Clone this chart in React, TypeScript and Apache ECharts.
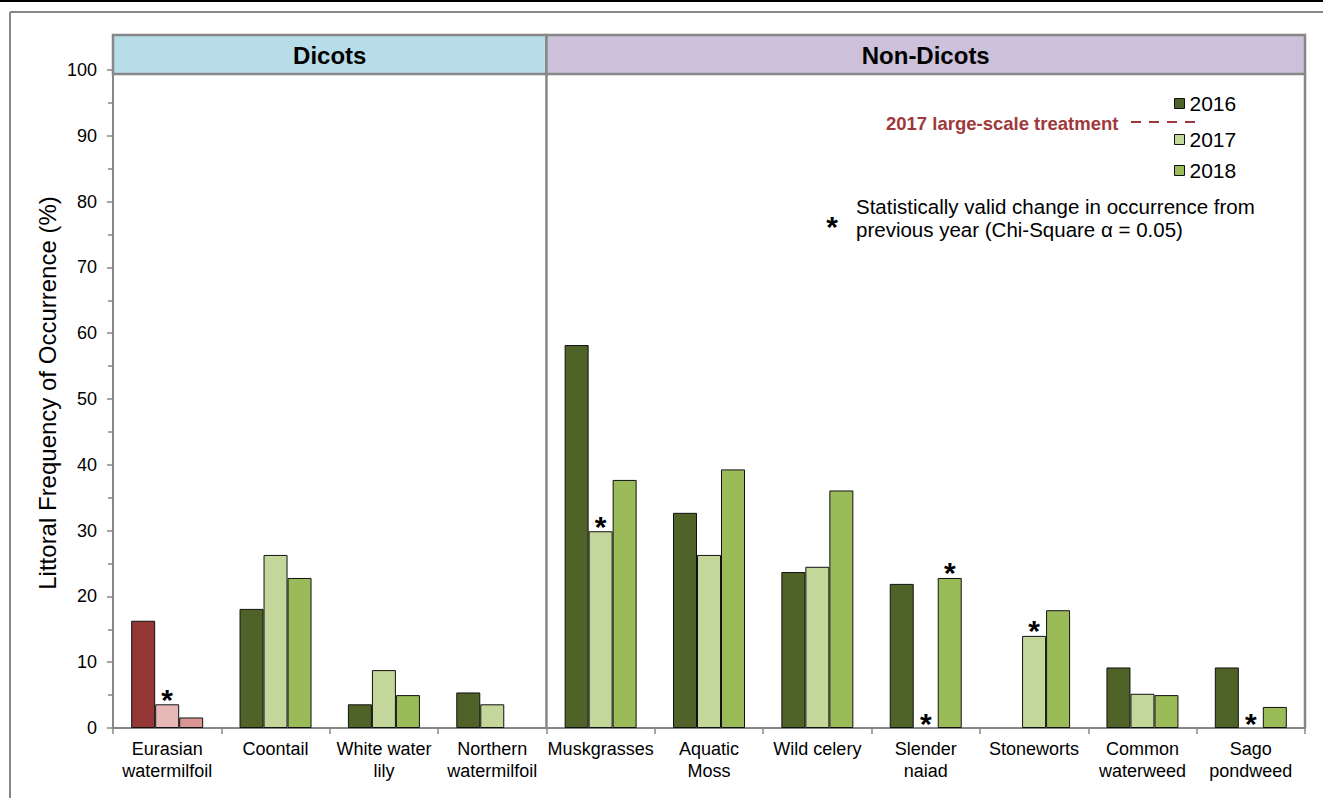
import React, { useEffect, useRef } from "react";
import * as echarts from "echarts";

const categories = [
  "Eurasian\nwatermilfoil",
  "Coontail",
  "White water\nlily",
  "Northern\nwatermilfoil",
  "Muskgrasses",
  "Aquatic\nMoss",
  "Wild celery",
  "Slender\nnaiad",
  "Stoneworts",
  "Common\nwaterweed",
  "Sago\npondweed",
];
const years = ["2016", "2017", "2018"];
const values2016: (number | null)[] = [16.3, 18.1, 3.6, 5.4, 58.2, 32.7, 23.7, 21.9, null, 9.2, 9.2];
const values2017: (number | null)[] = [3.6, 26.3, 8.8, 3.6, 29.9, 26.3, 24.5, 0, 14.0, 5.2, 0];
const values2018: (number | null)[] = [1.6, 22.8, 5.0, null, 37.7, 39.3, 36.1, 22.8, 17.9, 5.0, 3.2];
const sig2016 = [false, false, false, false, false, false, false, false, false, false, false];
const sig2017 = [true, false, false, false, true, false, false, true, true, false, true];
const sig2018 = [false, false, false, false, false, false, false, true, false, false, false];
const yTicks = [0, 10, 20, 30, 40, 50, 60, 70, 80, 90, 100];
const panels = ["Dicots", "Non-Dicots"];
const dicotCount = 4;

const greenColors = ["#4f6228", "#c4d79b", "#9bbb59"];
const redColors = ["#943634", "#e6b9b8", "#d99694"];
const FONT = "Liberation Sans, Arial, sans-serif";
const GRAY = "#878787";

export default function App() {
  const ref = useRef<HTMLDivElement>(null);
  useEffect(() => {
    if (!ref.current) return;
    const chart = echarts.init(ref.current, undefined, { renderer: "svg" });
    const W = 1323;
    const H = 798;
    const gridLeft = 113;
    const gridRight = 18;
    const gridTop = 70;
    const gridBottom = 70;
    const plotRight = W - gridRight;
    const plotBottom = H - gridBottom;
    const catW = (plotRight - gridLeft) / categories.length;
    const divX = gridLeft + catW * dicotCount;
    const headTop = 35;
    const headBottom = 74;

    const allVals = [values2016, values2017, values2018];
    const allSig = [sig2016, sig2017, sig2018];
    const series = years.map((y, s) => ({
      name: y,
      type: "bar",
      barWidth: 24,
      barGap: "0%",
      itemStyle: { color: greenColors[s], borderColor: "#111", borderWidth: 1 },
      label: {
        show: false,
        position: "top",
        distance: 0,
        offset: [0, 10],
        formatter: "*",
        fontSize: 30,
        fontWeight: "bold",
        fontFamily: FONT,
        color: "#000",
      },
      data: allVals[s].map((v, i) => {
        const item: any = { value: v === null ? "-" : v };
        const style: any = {};
        if (i === 0) style.color = redColors[s];
        if (v === 0) style.borderWidth = 0;
        item.itemStyle = style;
        item.label = { show: allSig[s][i] };
        return item;
      }),
    }));

    const lineStyle = { stroke: GRAY, lineWidth: 2 };
    chart.setOption({
      animation: false,
      backgroundColor: "#fff",
      textStyle: { fontFamily: FONT },
      grid: { left: gridLeft, right: gridRight, top: gridTop, bottom: gridBottom, containLabel: false },
      legend: years.map((y, i) => ({
        data: [y],
        left: 1174,
        top: [93, 129, 160][i],
        orient: "vertical",
        padding: 0,
        itemWidth: 10,
        itemHeight: 10,
        icon: "rect",
        selectedMode: false,
        itemStyle: { borderColor: "#111", borderWidth: 1 },
        textStyle: { fontSize: 21, color: "#000", fontFamily: FONT },
      })),
      xAxis: {
        type: "category",
        data: categories,
        axisLine: { show: true, lineStyle: { color: GRAY, width: 2 } },
        axisTick: { show: true, length: 6, lineStyle: { color: GRAY, width: 1.5 } },
        axisLabel: { interval: 0, fontSize: 18, lineHeight: 22, margin: 10, color: "#000", fontFamily: FONT },
        splitLine: { show: false },
      },
      yAxis: {
        type: "value",
        min: yTicks[0],
        max: yTicks[yTicks.length - 1],
        interval: yTicks[1] - yTicks[0],
        axisLine: { show: true, lineStyle: { color: GRAY, width: 2 } },
        axisTick: { show: true, length: 6, lineStyle: { color: GRAY, width: 1.5 } },
        minorTick: { show: true, splitNumber: 2, length: 5, lineStyle: { color: GRAY, width: 1.5 } },
        axisLabel: { fontSize: 18, margin: 16, color: "#000", fontFamily: FONT },
        splitLine: { show: false },
      },
      series,
      graphic: [
        { type: "line", shape: { x1: 0, y1: 1, x2: W, y2: 1 }, style: { stroke: "#000", lineWidth: 2 }, z: 100 },
        { type: "line", shape: { x1: 10, y1: 12, x2: W, y2: 12 }, style: { stroke: GRAY, lineWidth: 2 }, z: 100 },
        { type: "line", shape: { x1: 10, y1: 12, x2: 10, y2: H }, style: { stroke: GRAY, lineWidth: 2 }, z: 100 },
        {
          type: "rect",
          shape: { x: gridLeft, y: headTop, width: divX - gridLeft, height: headBottom - headTop },
          style: { fill: "#b7dee8", stroke: GRAY, lineWidth: 2.5 },
          z: 100,
        },
        {
          type: "rect",
          shape: { x: divX, y: headTop, width: plotRight - divX, height: headBottom - headTop },
          style: { fill: "#ccc0da", stroke: GRAY, lineWidth: 2.5 },
          z: 100,
        },
        {
          type: "text",
          x: (gridLeft + divX) / 2,
          y: (headTop + headBottom) / 2 + 1,
          style: { text: panels[0], font: `bold 24px ${FONT}`, fill: "#000", align: "center", verticalAlign: "middle" },
          z: 101,
        },
        {
          type: "text",
          x: (divX + plotRight) / 2,
          y: (headTop + headBottom) / 2 + 1,
          style: { text: panels[1], font: `bold 24px ${FONT}`, fill: "#000", align: "center", verticalAlign: "middle" },
          z: 101,
        },
        { type: "line", shape: { x1: divX, y1: headBottom, x2: divX, y2: plotBottom }, style: { ...lineStyle, lineWidth: 2.5 }, z: 100 },
        { type: "line", shape: { x1: plotRight, y1: headBottom, x2: plotRight, y2: plotBottom }, style: { ...lineStyle, lineWidth: 2.5 }, z: 100 },
        {
          type: "text",
          x: 47,
          y: 393,
          rotation: Math.PI / 2,
          style: {
            text: "Littoral Frequency of Occurrence (%)",
            font: `24px ${FONT}`,
            fill: "#000",
            align: "center",
            verticalAlign: "middle",
          },
          z: 100,
        },
        {
          type: "text",
          x: 886,
          y: 123,
          style: {
            text: "2017 large-scale treatment",
            font: `bold 18.5px ${FONT}`,
            fill: "#a0383b",
            align: "left",
            verticalAlign: "middle",
          },
          z: 100,
        },
        {
          type: "line",
          shape: { x1: 1131, y1: 122, x2: 1200, y2: 122 },
          style: { stroke: "#a0383b", lineWidth: 2, lineDash: [10, 8] },
          z: 100,
        },
        {
          type: "text",
          x: 832,
          y: 226,
          style: { text: "*", font: `bold 30px ${FONT}`, fill: "#000", align: "center", verticalAlign: "middle" },
          z: 100,
        },
        {
          type: "text",
          x: 856,
          y: 218,
          style: {
            text: "Statistically valid change in occurrence from\nprevious year (Chi-Square \u03b1 = 0.05)",
            font: `20.5px ${FONT}`,
            lineHeight: 23,
            fill: "#000",
            align: "left",
            verticalAlign: "middle",
          },
          z: 100,
        },
      ],
    });
    return () => chart.dispose();
  }, []);
  return (
    <div
      ref={ref}
      style={{ position: "fixed", left: 0, top: 0, width: 1323, height: 798, background: "#fff" }}
    />
  );
}
